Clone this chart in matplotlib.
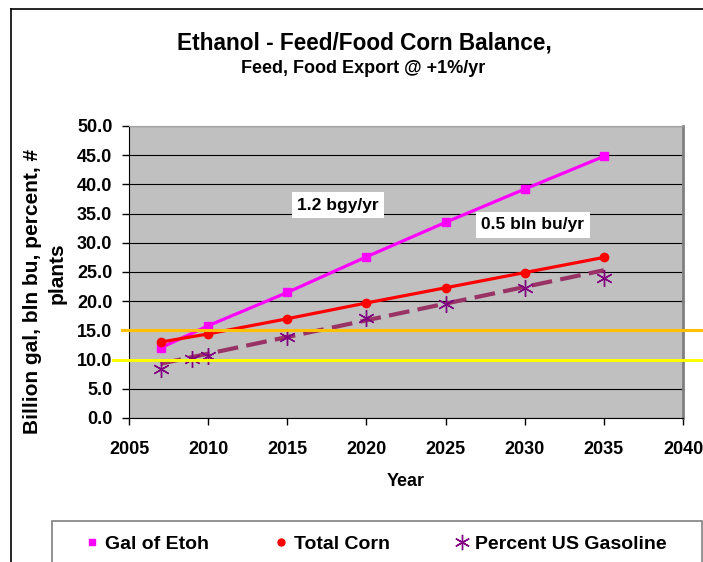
"""
Ethanol - Feed/Food corn balance chart
"""
import matplotlib
matplotlib.use("Agg")
import matplotlib.pyplot as plt
from matplotlib.lines import Line2D
from matplotlib.patches import Rectangle

plt.rcParams['font.family'] = ['Liberation Sans', 'DejaVu Sans']
plt.rcParams['font.weight'] = 'bold'

# series
etoh_years = [2007, 2010, 2015, 2020, 2025, 2030, 2035]
etoh_vals = [12.0, 15.8, 21.5, 27.6, 33.5, 39.2, 44.8]

corn_years = [2007, 2010, 2015, 2020, 2025, 2030, 2035]
corn_vals = [13.0, 14.4, 17.0, 19.7, 22.3, 24.9, 27.5]

gas_years = [2007, 2009, 2010, 2015, 2020, 2025, 2030, 2035]
gas_vals = [8.4, 10.1, 10.7, 13.8, 17.2, 19.6, 22.2, 23.9]

# linear trend drawn through the gasoline points
gas_trend_years = [2007, 2035]
gas_trend_vals = [9.3, 25.3]

# horizontal reference levels
ref_levels = [15.0, 10.0]
ref_colors = ['#FFC000', '#FFFF00']
ref_starts = [2004.56, 2004.0]

labels = ["Gal of Etoh", "Total Corn", "Percent US Gasoline"]
notes = ["1.2 bgy/yr", "0.5 bln bu/yr"]
note_pos = [(2018.2, 36.4), (2030.5, 33.1)]

W, H = 703, 562
fig = plt.figure(figsize=(W / 100, H / 100), dpi=100)
ax = fig.add_axes([129 / W, 1 - 418 / H, (683 - 129) / W, (418 - 126) / H])
ax.set_facecolor('#C0C0C0')

ax.set_xlim(2005, 2040)
ax.set_ylim(0, 50)
ax.set_xticks(range(2005, 2041, 5))
ax.set_yticks([i * 5 for i in range(11)])
ax.set_yticklabels([f"{i * 5:.1f}" for i in range(11)])
ax.tick_params(axis='both', direction='out', length=5, width=1, labelsize=13)
ax.tick_params(axis='y', pad=7)
ax.tick_params(axis='x', pad=11.5)
for lab in ax.get_xticklabels() + ax.get_yticklabels():
    lab.set_fontweight('bold')

ax.grid(axis='y', color='black', linewidth=0.8)
ax.set_axisbelow(True)
ax.spines['top'].set_color('#A0A0A0')
ax.spines['right'].set_color('#808080')
ax.spines['right'].set_linewidth(2)

ax.plot(etoh_years, etoh_vals, color='#FF00FF', lw=2.3, marker='s', ms=6, zorder=3)
ax.plot(corn_years, corn_vals, color='#FF0000', lw=2.3, marker='o', ms=6, zorder=3)
ax.plot(gas_trend_years, gas_trend_vals, color='#993366', lw=3, dashes=(5, 2), zorder=3)
ax.plot(gas_years, gas_vals, linestyle='none', color='#800080', marker=(6, 2, 0),
        ms=12, mew=1.0, zorder=4)

for level, color, x0 in zip(ref_levels, ref_colors, ref_starts):
    ax.plot([x0, 2041.3], [level, level], color=color, lw=2.2, clip_on=False, zorder=5)

for text, (x, y) in zip(notes, note_pos):
    ax.text(x, y, text, ha='center', va='center', fontsize=12.5, fontweight='bold',
            bbox=dict(facecolor='white', edgecolor='none', pad=4), zorder=6)

ax.set_xlabel("Year", fontsize=13, fontweight='bold')
ax.xaxis.set_label_coords(0.5, -0.19)

# y axis title, two lines as wrapped in the original
fig.text(33 / W, 1 - 291 / H, "Billion gal, bln bu, percent, #", rotation=90,
         ha='center', va='center', fontsize=15, fontweight='bold')
fig.text(57 / W, 1 - 273 / H, "plants", rotation=90,
         ha='center', va='center', fontsize=15, fontweight='bold')

fig.text(364 / W, 1 - 43 / H, "Ethanol - Feed/Food Corn Balance,", ha='center',
         va='center', fontsize=16.3, fontweight='bold')
fig.text(363 / W, 1 - 68 / H, "Feed, Food Export @ +1%/yr", ha='center',
         va='center', fontsize=13, fontweight='bold')

# outer chart frame (cropped on right and bottom)
fig.add_artist(Line2D([11 / W, 11 / W], [0, 1 - 9 / H], color='black', lw=1.2))
fig.add_artist(Line2D([11 / W, 1], [1 - 9 / H, 1 - 9 / H], color='black', lw=1.2))

# legend box
fig.add_artist(Rectangle((52 / W, -0.02), (702 - 52) / W, 0.02 + (562 - 521) / H,
                         transform=fig.transFigure, facecolor='white',
                         edgecolor='#808080', lw=1.2))

handles = [
    Line2D([], [], linestyle='none', marker='s', color='#FF00FF', ms=5),
    Line2D([], [], linestyle='none', marker='o', color='#FF0000', ms=5),
    Line2D([], [], linestyle='none', marker=(6, 2, 0), color='#800080', ms=11, mew=1),
]
fig.legend(handles, labels, loc='upper left', ncol=3,
           bbox_to_anchor=(82.3 / W, 1 - 535 / H), frameon=False,
           prop=dict(size=14, weight='bold'), handlelength=1.0,
           handletextpad=0.17, columnspacing=3.2, borderpad=0, borderaxespad=0)

fig.savefig("out.png", dpi=100)
